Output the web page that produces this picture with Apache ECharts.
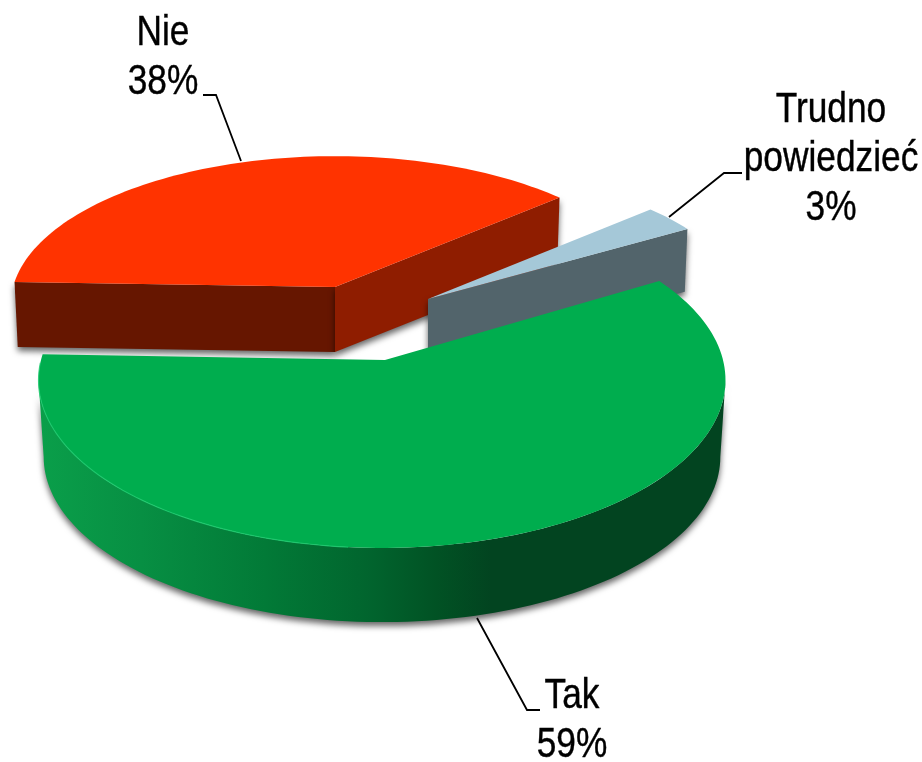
<!DOCTYPE html>
<html>
<head>
<meta charset="utf-8">
<style>html,body{margin:0;padding:0;background:#fff}#c{width:922px;height:762px}</style>
<script src="https://cdn.jsdelivr.net/npm/echarts@6/dist/echarts.min.js"></script>
</head>
<body>
<div id="c"></div>
<script>
var categories = ['Tak', 'Nie', 'Trudno\npowiedzieć'];
var values = [59, 38, 3];
var startAngle = 30.4;

var geometry = [
  { cx: 382, cy: 360, apexDx: 3, R: 341, m: 0.485, depth: 77, shrink: 0.985, z: 30 },
  { cx: 335, cy: 287, apexDx: 0, R: 322, m: 0.455, depth: 65, shrink: 0.99, z: 10 },
  { cx: 428, cy: 299, apexDx: 0, R: 319, m: 0.46, depth: 62, shrink: 0.99, z: 20 }
];
var perspective = 0.12;
var topColors = ['#00AD4E', '#FF3300', '#A5C8D8'];
var labelPlaces = [
  { x: 572, y: 721, line: [[477, 618], [527, 710], [540, 710]] },
  { x: 163, y: 58, line: [[241, 161], [216, 95], [203, 95]] },
  { x: 831, y: 159, line: [[669, 217], [724, 173], [742, 173]] }
];

var total = values.reduce(function (a, b) { return a + b; }, 0);
// Angles where the projected rim reaches its left and right extremes
var rimRight = -Math.asin(perspective) * 180 / Math.PI;
var rimLeft = -180 - rimRight;

function project(g, deg, scale, dy) {
  var t = deg * Math.PI / 180;
  var den = 1 + perspective * Math.sin(t);
  return [
    g.cx + scale * g.R * Math.cos(t) / den,
    g.cy + dy - scale * g.R * g.m * Math.sin(t) / den
  ];
}
function arc(g, from, to, scale, dy) {
  var pts = [], n = Math.max(8, Math.ceil(Math.abs(to - from) / 1.5));
  for (var i = 0; i <= n; i++) pts.push(project(g, from + (to - from) * i / n, scale, dy));
  return pts;
}
function polygon(points, fill, z2, extra) {
  var style = { fill: fill };
  if (extra) for (var k in extra) style[k] = extra[k];
  return { type: 'polygon', z2: z2, shape: { points: points }, style: style };
}
var greenWall = {
  type: 'linear', x: 38, y: 0, x2: 725, y2: 0, global: true,
  colorStops: [
    { offset: 0, color: '#0A9F4A' },
    { offset: 0.15, color: '#078F43' },
    { offset: 0.33, color: '#027A37' },
    { offset: 0.48, color: '#01652E' },
    { offset: 0.58, color: '#015224' },
    { offset: 0.66, color: '#024420' },
    { offset: 1, color: '#024420' }
  ]
};
var shadow = { shadowBlur: 6, shadowOffsetY: 4, shadowOffsetX: 0, shadowColor: 'rgba(0,0,0,0.6)' };

function renderSlice(params, api) {
  var i = params.dataIndex, value = api.value(0), g = geometry[i];
  var before = 0;
  for (var j = 0; j < i; j++) before += values[j];
  var a0 = startAngle - before / total * 360;
  var a1 = a0 - value / total * 360;
  var dy = g.depth, s = g.shrink, z = g.z;
  var apex = [g.cx + g.apexDx, g.cy], apexB = [g.cx + g.apexDx, g.cy + dy];
  var topArc = arc(g, a0, a1, 1, 0);
  var children = [];

  if (i === 0) {
    var wallFrom = Math.min(a0, rimRight), wallTo = Math.max(a1, rimLeft);
    var wall = arc(g, wallFrom, wallTo, 1, 0).concat(arc(g, wallFrom, wallTo, s, dy).reverse());
    children.push(polygon(wall, greenWall, z + 1, shadow));
    children.push(polygon([apex].concat(topArc), topColors[0], z + 3));
    children.push({
      type: 'polyline', z2: z + 4,
      shape: { points: arc(g, -95, a1 + 3, 1, 0) },
      style: { fill: null, stroke: '#1CCB6E', lineWidth: 1.2, opacity: 0.8 }
    });
  } else if (i === 1) {
    var pLeft = project(g, a0, 1, 0), pLeftB = project(g, a0, s, dy);
    var pRight = project(g, a1, 1, 0), pRightB = project(g, a1, s, dy);
    children.push(polygon([apex, pLeft, pLeftB, apexB], '#661600', z + 1, shadow));
    children.push(polygon([apex, pRight, pRightB, apexB], '#8F1D00', z + 1, shadow));
    children.push(polygon([apex].concat(topArc), topColors[1], z + 3));
  } else {
    var qR = project(g, a1, 1, 0), qRb = project(g, a1, s, dy);
    children.push(polygon([apex, qR, qRb, apexB], '#52646B', z + 1, shadow));
    children.push(polygon([apex].concat(topArc), topColors[2], z + 3));
  }

  var place = labelPlaces[i];
  children.push({
    type: 'polyline', z2: 40,
    shape: { points: place.line },
    style: { fill: null, stroke: '#000', lineWidth: 1.8 }
  });
  children.push({
    type: 'text', z2: 41, x: place.x, y: place.y, scaleX: 0.84,
    style: {
      text: categories[i] + '\n' + value + '%',
      font: '42px "Liberation Sans", Arial, sans-serif',
      lineHeight: 49, fill: '#000', align: 'center', verticalAlign: 'middle',
      stroke: '#000', lineWidth: 0.4
    }
  });
  return { type: 'group', children: children };
}

var chart = echarts.init(document.getElementById('c'), null, { renderer: 'canvas', width: 922, height: 762 });
chart.setOption({
  animation: false,
  backgroundColor: '#fff',
  series: [{
    type: 'custom',
    coordinateSystem: 'none',
    silent: true,
    data: values.map(function (v) { return [v]; }),
    renderItem: renderSlice
  }]
});
</script>
</body>
</html>
